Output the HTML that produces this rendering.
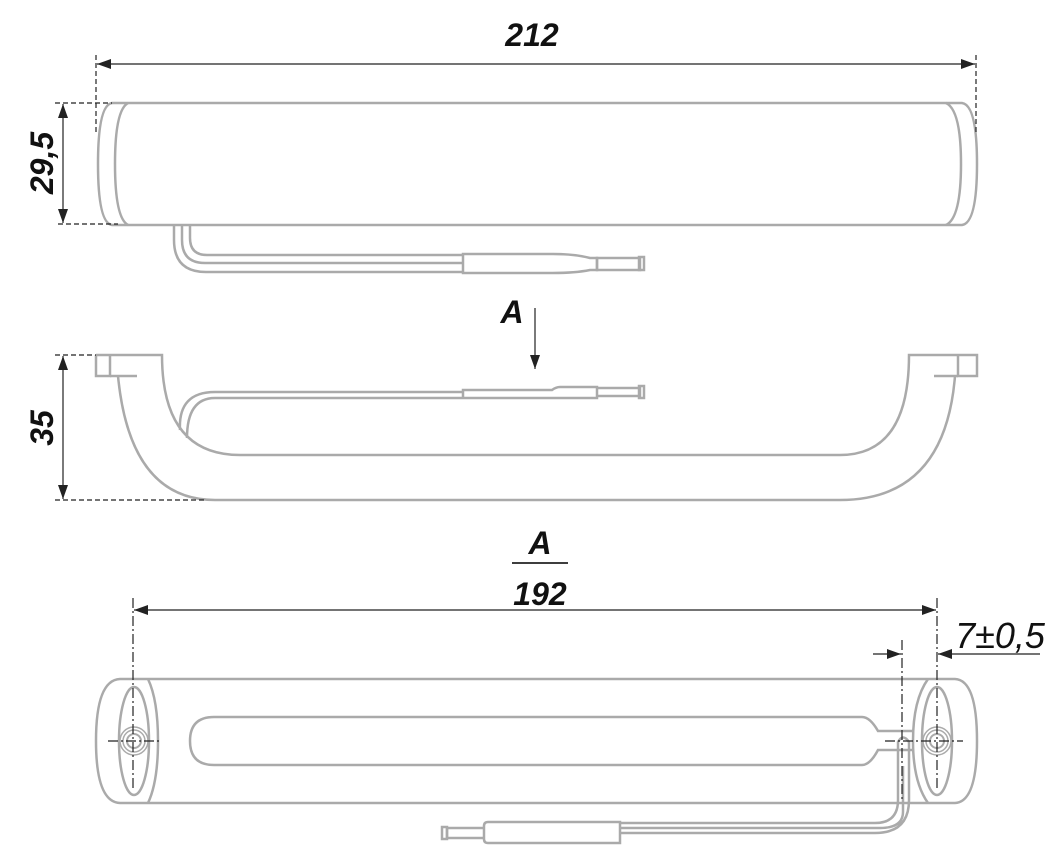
<!DOCTYPE html>
<html><head><style>body{margin:0;background:#fff}svg{display:block}</style></head><body>
<svg width="1050" height="850" viewBox="0 0 1050 850" xmlns="http://www.w3.org/2000/svg" font-family="Liberation Sans, Arial, sans-serif">
<defs>
<marker id="ah2" viewBox="0 0 14 10" refX="14" refY="5" markerWidth="14" markerHeight="10" orient="auto-start-reverse" markerUnits="userSpaceOnUse"><path d="M0,0 L14,5 L0,10 z" fill="#222"/></marker>
</defs>
<g fill="none" stroke="#aaa" stroke-width="2.5">
<!-- TOP VIEW -->
<path d="M112,103 H962 Q977,105 977,164 Q977,223 962,225 H112 Q98,223 98,164 Q98,105 112,103 Z"/>
<path d="M128,103 Q115,110 115,164 Q115,218 128,225"/>
<path d="M946,103 Q961,110 961,164 Q961,218 946,225"/>
<path d="M174,226 V240 Q174,272 206,272 H463"/>
<path d="M182,226 V240 Q182,263 205,263 H463"/>
<path d="M190,226 V238 Q190,255 207,255 H463"/>
<path d="M463,254 H553 Q575,254 590,258 H597 V270 H590 Q575,273 553,273 H463 Z"/>
<path d="M597,258 H640 V270 H597 Z"/><path d="M639,257 H644 V270 H639 Z"/>
<!-- SIDE VIEW -->
<path d="M96,355 H162 Q162,455 240,455 H840 Q909,455 909,355 H977 V376 H958 V355"/>
<path d="M110,355 V376 H96 V355"/>
<path d="M110,376 H137"/>
<path d="M118,376 Q130,500 215,500 H840 Q945,500 955,376"/>
<path d="M934,376 H958"/>
<path d="M180,430 Q178,392 215,392 H463"/>
<path d="M187,438 Q187,398 215,398 H463"/>
<path d="M463,397 V390 H552 Q556,387 560,387 H597 V398 H463"/>
<path d="M597,388 H640 V396 H597"/><path d="M639,386 H644 V398 H639 Z"/>
<!-- BOTTOM VIEW -->
<path d="M150,679 H955 Q977,680 977,741 Q977,802 955,803 H120 Q96,802 96,741 Q96,680 120,679 Z"/>
<path d="M148,679 Q158,700 158,741 Q158,782 148,803"/>
<path d="M928,679 Q913,700 913,741 Q913,782 928,803"/>
<ellipse cx="134" cy="741" rx="15" ry="54"/>
<ellipse cx="937" cy="741" rx="15" ry="54"/>
<path d="M214,717 H862 Q870,717 878,731 H913 M214,765 H862 Q870,765 878,750 H913 M214,717 Q190,717 190,741 Q190,765 214,765"/>
<path d="M898,800 V742 Q903,733 909,742 V800"/>
<path d="M898,800 Q898,823 875,823 H620 M909,800 Q909,833 875,833 H620 M903,766 V812 Q903,828 880,828 H620"/>
<path d="M488,822 H620 V843 H488 Q484,843 484,839 V826 Q484,822 488,822 Z"/>
<path d="M484,828 H447 V838 H484"/><path d="M442,827 H447 V839 H442 Z"/>
</g>
<g fill="none" stroke="#aaa" stroke-width="1.5">
<circle cx="134" cy="741" r="14"/><circle cx="134" cy="741" r="11"/><circle cx="134" cy="741" r="7" stroke-width="2"/>
<circle cx="937" cy="741" r="14"/><circle cx="937" cy="741" r="11"/><circle cx="937" cy="741" r="7" stroke-width="2"/>
</g>
<g stroke="#222" stroke-width="1.2" fill="none">
<path d="M96,55 V135 M976,55 V135" stroke-dasharray="5,3"/>
<line x1="97" y1="64" x2="975" y2="64" marker-start="url(#ah2)" marker-end="url(#ah2)"/>
<path d="M55,103 H112 M58,224 H118" stroke-dasharray="5,3"/>
<line x1="63" y1="104" x2="63" y2="223" marker-start="url(#ah2)" marker-end="url(#ah2)"/>
<path d="M55,355 H96 M55,500 H205" stroke-dasharray="5,3"/>
<line x1="63" y1="356" x2="63" y2="499" marker-start="url(#ah2)" marker-end="url(#ah2)"/>
<line x1="535" y1="308" x2="535" y2="369" marker-end="url(#ah2)"/>
<path d="M133,598 V790 M937,598 V790 M902,640 V800 M108,741 H162 M885,741 H963" stroke-dasharray="10,3,2,3"/>
<line x1="134" y1="610" x2="936" y2="610" marker-start="url(#ah2)" marker-end="url(#ah2)"/>
<line x1="873" y1="654" x2="901" y2="654" marker-end="url(#ah2)"/>
<line x1="1040" y1="654" x2="938" y2="654" marker-end="url(#ah2)"/>
<line x1="512" y1="563" x2="568" y2="563" stroke-width="1.8"/>
</g>
<g fill="#111" font-weight="bold" font-style="italic" font-size="32" text-anchor="middle">
<text x="532" y="46">212</text>
<text x="512" y="323">A</text>
<text x="540" y="554">A</text>
<text x="540" y="605">192</text>
<text transform="translate(53,163) rotate(-90)">29,5</text>
<text transform="translate(53,428) rotate(-90)">35</text>
</g>
<text x="1000" y="648" text-anchor="middle" font-style="italic" font-size="36" fill="#111">7±0,5</text>
</svg>
</body></html>
